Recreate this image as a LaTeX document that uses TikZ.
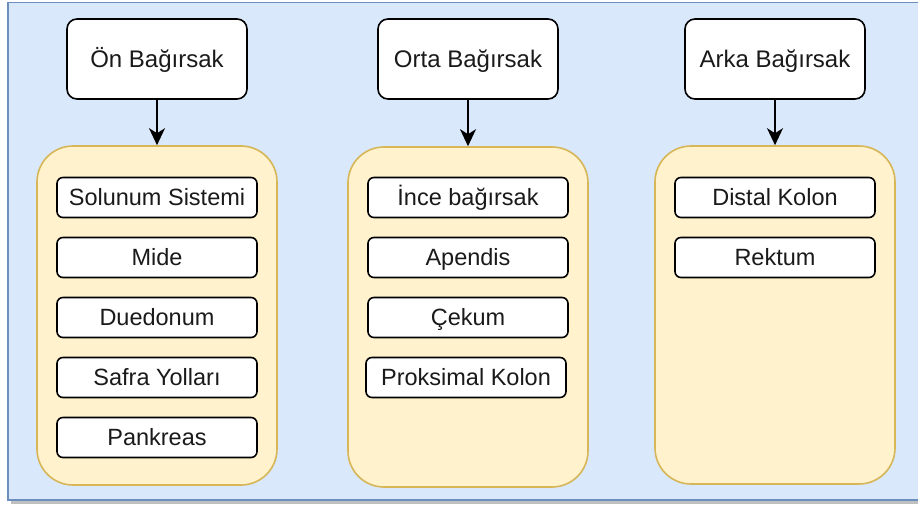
\documentclass[tikz,border=0pt]{standalone}
\usepackage{fontspec}
\setmainfont{Liberation Sans}
\usetikzlibrary{arrows.meta}
\definecolor{panelfill}{HTML}{DAE8FC}
\definecolor{panelline}{HTML}{6C8EBF}
\definecolor{groupfill}{HTML}{FFF2CC}
\definecolor{groupline}{HTML}{D6B656}
\definecolor{inkc}{HTML}{1A1A1A}
\tikzset{
  headbox/.style={draw=black, fill=white, line width=1.6pt, rounded corners=10pt,
    minimum width=180pt, minimum height=80pt, inner sep=0pt, text=inkc,
    font=\fontsize{24}{28}\selectfont, text height=22pt, text depth=4.8pt},
  groupbox/.style={draw=groupline, fill=groupfill, line width=1.6pt, rounded corners=36pt,
    minimum width=240pt, inner sep=0pt},
  itembox/.style={draw=black, fill=white, line width=1.6pt, rounded corners=6pt,
    minimum width=200pt, minimum height=40pt, inner sep=0pt, text=inkc,
    font=\fontsize{23.5}{28}\selectfont, text height=21.6pt, text depth=4.7pt},
  link/.style={draw=black, line width=1.6pt,
    -{Stealth[length=17pt, width=16pt, inset=5pt]}},
}
\begin{document}
\begin{tikzpicture}[x=1pt, y=-1pt]
  \clip (0,0) rectangle (918,505);
  % backdrop panel with its drop shadow
  \fill[black!25] (11,5) rectangle (930,504);
  \draw[panelline, fill=panelfill, line width=1.4pt] (8,2.7) rectangle (930,500);

  % column headers
  \node[headbox] (h1) at (157,59) {Ön Bağırsak};
  \node[headbox] (h2) at (468,59) {Orta Bağırsak};
  \node[headbox] (h3) at (775,59) {Arka Bağırsak};

  % group containers
  \node[groupbox, minimum height=339pt] (c1) at (157,315.5) {};
  \node[groupbox, minimum height=340pt] (c2) at (468,317) {};
  \node[groupbox, minimum height=338pt] (c3) at (775,315) {};

  % foregut items
  \node[itembox] (a1) at (157,197.5) {Solunum Sistemi};
  \node[itembox] (a2) at (157,257.5) {Mide};
  \node[itembox] (a3) at (157,317.5) {Duedonum};
  \node[itembox] (a4) at (157,377.5) {Safra Yolları};
  \node[itembox] (a5) at (157,437.5) {Pankreas};

  % midgut items
  \node[itembox] (b1) at (468,197.5) {İnce bağırsak};
  \node[itembox] (b2) at (468,257.5) {Apendis};
  \node[itembox] (b3) at (468,317.5) {Çekum};
  \node[itembox] (b4) at (466,377.5) {Proksimal Kolon};

  % hindgut items
  \node[itembox] (d1) at (775,197.5) {Distal Kolon};
  \node[itembox] (d2) at (775,257.5) {Rektum};

  % header to container arrows
  \draw[link] (h1.south) -- (c1.north);
  \draw[link] (h2.south) -- (c2.north);
  \draw[link] (h3.south) -- (c3.north);
\end{tikzpicture}
\end{document}
